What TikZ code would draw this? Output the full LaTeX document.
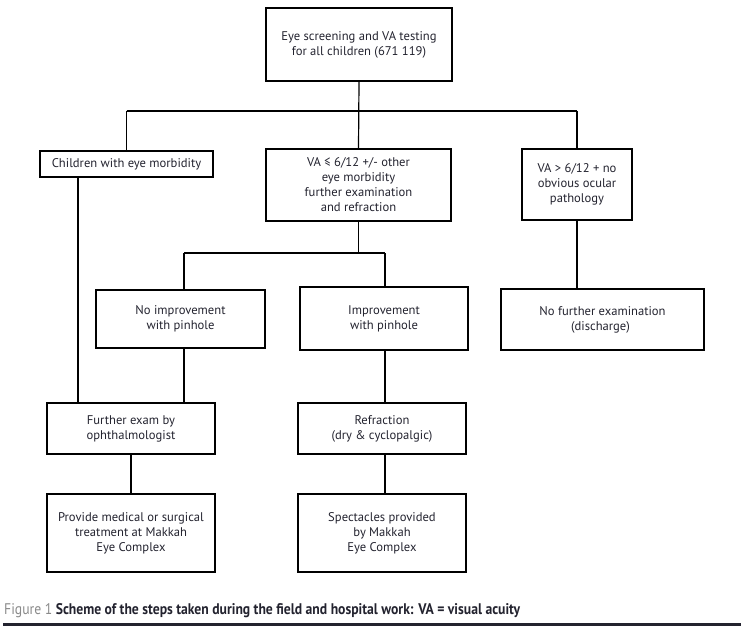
\documentclass[tikz,border=0pt]{standalone}
\usepackage{fontspec}
\setmainfont{PT Sans}
\definecolor{ink}{HTML}{23232F}
\definecolor{figgray}{HTML}{8A8A8A}
\tikzset{
  box/.style={draw, line width=1.2pt, align=center, inner sep=0pt, text=ink,
    font=\fontsize{12.6}{15}\selectfont},
  conn/.style={line width=1.2pt}
}
\begin{document}
\begin{tikzpicture}[x=1pt,y=-1pt]
\useasboundingbox (0,0) rectangle (746,631);
\node[box, minimum width=186, minimum height=73] (top) at (359,44.5) {Eye screening and VA testing\\for all children (671 119)};
\node[box, minimum width=173, minimum height=26] (child) at (126.5,164) {Children with eye morbidity};
\node[box, minimum width=185, minimum height=72] (mid) at (358.5,185) {VA ≤ 6/12 +/- other\\eye morbidity\\further examination\\and refraction};
\node[box, minimum width=110, minimum height=71] (right) at (577,184.5) {VA > 6/12 + no\\obvious ocular\\pathology};
\node[box, minimum width=169, minimum height=58] (noimp) at (180.5,319) {No improvement\\with pinhole};
\node[box, minimum width=168, minimum height=63] (imp) at (384,318.5) {Improvement\\with pinhole};
\node[box, minimum width=203, minimum height=61] (nofur) at (602.5,319.5) {No further examination\\(discharge)\hspace*{4pt}};
\node[box, minimum width=168, minimum height=51] (fex) at (131,428.5) {Further exam by\\ophthalmologist};
\node[box, minimum width=168, minimum height=51] (refr) at (382,428.5) {Refraction\\(dry \& cyclopalgic)};
\node[box, minimum width=168, minimum height=78] (prov) at (131,533) {Provide medical or surgical\\treatment at Makkah\\Eye Complex};
\node[box, minimum width=168, minimum height=78] (spec) at (382,533) {Spectacles provided\\by Makkah\\Eye Complex};

\coordinate (jL) at (126.5,111);
\coordinate (jC) at (359,111);
\coordinate (jR) at (577,111);
\coordinate (sA) at (184,253);
\coordinate (sB) at (385,253);
\coordinate (cl) at (78,177);

\draw[conn] (top.south) -- (mid.north);
\draw[conn] (jL) -- (jR);
\draw[conn] (jL) -- (child.north);
\draw[conn] (jR) -- (right.north);
\draw[conn] (right.south) -- (right.south |- nofur.north);
\draw[conn] (mid.south) -- (mid.south |- sA);
\draw[conn] (sA) -- (sB);
\draw[conn] (sA) -- (sA |- noimp.north);
\draw[conn] (sB) -- (sB |- imp.north);
\draw[conn] (sA |- noimp.south) -- (sA |- fex.north);
\draw[conn] (cl) -- (cl |- fex.north);
\draw[conn] (fex.south) -- (prov.north);
\draw[conn] (sB |- imp.south) -- (sB |- refr.north);
\draw[conn] (sB |- refr.south) -- (sB |- spec.north);

\node[anchor=base west, inner sep=0pt, font=\bfseries\fontsize{12}{14}\selectfont, text=ink] (cap) at (4,614)
  {\resizebox{516pt}{11pt}{\textcolor{figgray}{\mdseries Figure 1} Scheme of the steps taken during the field and hospital work: VA = visual acuity}};
\draw[line width=3pt, ink] (3,624.5) -- (741,624.5);
\end{tikzpicture}
\end{document}
